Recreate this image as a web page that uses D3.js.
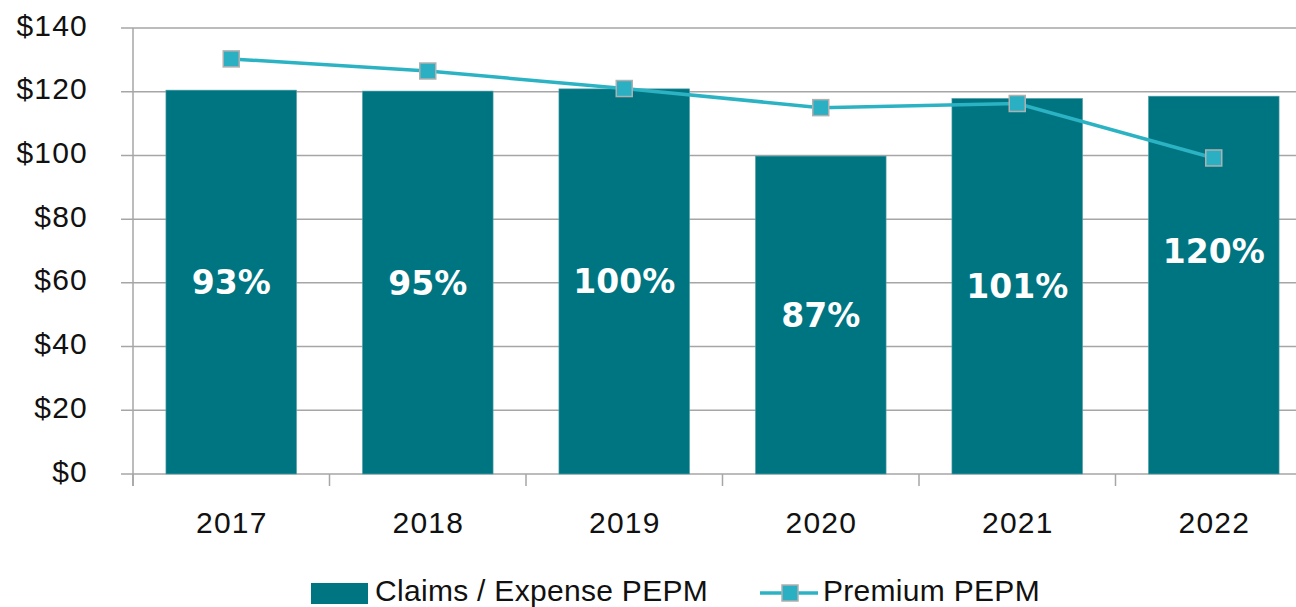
<!DOCTYPE html>
<html><head><meta charset="utf-8">
<script src="https://cdn.jsdelivr.net/npm/d3@7"></script>
<style>body{margin:0;background:#fff}svg{display:block}</style>
</head><body><svg id="c" width="1296" height="607"></svg>
<script>
const years = ["2017","2018","2019","2020","2021","2022"];
const claims = [120.5, 120.2, 120.9, 99.8, 117.9, 118.6];
const premium = [130.3, 126.5, 121.0, 115.0, 116.3, 99.2];
const ratioLabels = ["93%","95%","100%","87%","101%","120%"];
const yTicks = [0,20,40,60,80,100,120,140];
const seriesNames = ["Claims / Expense PEPM","Premium PEPM"];

const barColor = "#007582", lineColor = "#2bb3c4", markerFill = "#2ab0c2", grid = "#a6a6a6";
const sans = "'Liberation Sans',Arial,sans-serif";
const svg = d3.select("#c");
const L = 133, R = 1312, T = 28, B = 474;
const x = d3.scaleBand().domain(years).range([L, R]).paddingInner(0.335).paddingOuter(0.1675);
const y = d3.scaleLinear().domain([0,140]).range([B, T]);

svg.append("g").selectAll("line").data(yTicks).join("line")
  .attr("x1", L-12).attr("x2", R).attr("y1", d=>y(d)).attr("y2", d=>y(d))
  .attr("stroke", grid).attr("stroke-width", 1.5);
svg.append("line").attr("x1", L).attr("x2", L).attr("y1", T).attr("y2", B+12).attr("stroke", grid).attr("stroke-width",1.5);
const bounds = years.map(d => x(d) - x.step()*x.paddingInner()/2).concat([R]);
svg.append("g").selectAll("line").data(bounds).join("line")
  .attr("x1", d=>d).attr("x2", d=>d).attr("y1", B).attr("y2", B+12).attr("stroke", grid).attr("stroke-width",1.5);
svg.append("g").selectAll("text").data(yTicks).join("text")
  .attr("x", 88).attr("y", d=>y(d)+7.5).attr("text-anchor","end").style("font-family", sans)
  .attr("font-size", 30).attr("letter-spacing", 1.2).attr("fill","#111").text(d=>"$"+d);
svg.append("g").selectAll("text").data(years).join("text")
  .attr("x", d=>x(d)+x.bandwidth()/2+0.6).attr("y", 533).attr("text-anchor","middle").style("font-family", sans)
  .attr("font-size", 30).attr("letter-spacing", 1.2).attr("fill","#111").text(d=>d);
svg.append("g").selectAll("rect").data(years).join("rect")
  .attr("x", d=>x(d)).attr("width", x.bandwidth())
  .attr("y", (d,i)=>y(claims[i])).attr("height", (d,i)=>B - y(claims[i]))
  .attr("fill", barColor).attr("stroke","#5aa4ad").attr("stroke-width",0.6);
const line = d3.line().x((d,i)=>x(years[i])+x.bandwidth()/2).y(d=>y(d));
svg.append("path").datum(premium).attr("d", line).attr("fill","none")
  .attr("stroke", lineColor).attr("stroke-width", 3.5);
svg.append("g").selectAll("rect").data(premium).join("rect")
  .attr("x",(d,i)=>x(years[i])+x.bandwidth()/2-8).attr("y", d=>y(d)-8)
  .attr("width",16).attr("height",16).attr("fill",markerFill).attr("stroke","#b0b0b0").attr("stroke-width",1.5);
svg.append("g").selectAll("text").data(ratioLabels).join("text")
  .attr("x",(d,i)=>x(years[i])+x.bandwidth()/2)
  .attr("y",(d,i)=>{ const mid=(y(claims[i])+B)/2; return i===years.length-1 ? mid-22 : mid+12; })
  .attr("text-anchor","middle").attr("font-size",33).attr("font-weight","bold")
  .style("font-family","'DejaVu Sans',sans-serif").attr("fill","#fff").text(d=>d);
const lg = svg.append("g");
lg.append("rect").attr("x",311).attr("y",583).attr("width",57).attr("height",21).attr("fill",barColor);
lg.append("text").attr("x",375).attr("y",601).style("font-family", sans).attr("font-size",30).attr("letter-spacing",0.3).attr("fill","#111").text(seriesNames[0]);
lg.append("line").attr("x1",760).attr("x2",818).attr("y1",593).attr("y2",593).attr("stroke",lineColor).attr("stroke-width",3.5);
lg.append("rect").attr("x",782).attr("y",585).attr("width",16).attr("height",16).attr("fill",markerFill).attr("stroke","#b0b0b0").attr("stroke-width",1.5);
lg.append("text").attr("x",823).attr("y",601).style("font-family", sans).attr("font-size",30).attr("letter-spacing",0.3).attr("fill","#111").text(seriesNames[1]);
</script></body></html>
